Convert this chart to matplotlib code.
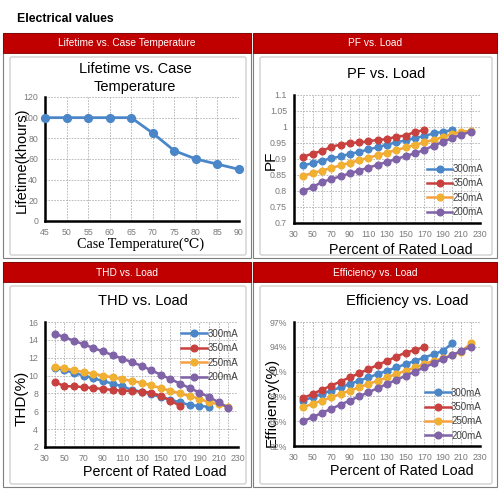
import matplotlib
matplotlib.use("Agg")
import matplotlib.pyplot as plt
from matplotlib.patches import Rectangle, FancyBboxPatch
import numpy as np

plt.rcParams['font.family'] = ['Liberation Sans', 'DejaVu Sans']

# ---------------- data ----------------
life_temp = [45, 50, 55, 60, 65, 70, 75, 80, 85, 90]
life_khours = [100, 100, 100, 100, 100, 85, 68, 60, 55, 50]

series_names = ["300mA", "350mA", "250mA", "200mA"]
load_300 = list(range(40, 201, 10))
load_350 = list(range(40, 171, 10))
load_250 = list(range(40, 221, 10))
load_200 = list(range(40, 221, 10))

pf_300 = [0.880, 0.887, 0.895, 0.902, 0.908, 0.916, 0.922, 0.930, 0.937, 0.945,
          0.952, 0.958, 0.965, 0.972, 0.980, 0.985, 0.990]
pf_350 = [0.907, 0.917, 0.925, 0.938, 0.945, 0.950, 0.952, 0.955, 0.960, 0.962,
          0.970, 0.973, 0.985, 0.990]
pf_250 = [0.848, 0.856, 0.864, 0.872, 0.880, 0.888, 0.896, 0.904, 0.912, 0.920,
          0.928, 0.936, 0.944, 0.952, 0.960, 0.968, 0.978, 0.985, 0.988]
pf_200 = [0.800, 0.812, 0.828, 0.837, 0.846, 0.855, 0.864, 0.873, 0.882, 0.891,
          0.900, 0.909, 0.918, 0.928, 0.942, 0.953, 0.966, 0.976, 0.985]

thd_300 = [10.9, 10.6, 10.3, 10.0, 9.7, 9.4, 9.1, 8.8, 8.4, 8.2, 7.9, 7.6, 7.3,
           7.0, 6.7, 6.6, 6.5]
thd_350 = [9.3, 8.8, 8.8, 8.7, 8.6, 8.5, 8.4, 8.3, 8.3, 8.2, 8.1, 7.7, 7.2, 6.6]
thd_250 = [11.0, 10.8, 10.6, 10.4, 10.2, 10.0, 9.8, 9.6, 9.4, 9.2, 8.9, 8.6, 8.3,
           8.0, 7.7, 7.4, 7.0, 6.8, 6.5]
thd_200 = [14.7, 14.3, 13.9, 13.5, 13.1, 12.7, 12.3, 11.9, 11.5, 11.1, 10.6, 10.1,
           9.6, 9.1, 8.6, 8.1, 7.6, 7.0, 6.4]

eff_300 = [87.5, 87.9, 88.3, 88.7, 89.1, 89.5, 89.9, 90.3, 90.7, 91.1, 91.5, 91.9,
           92.3, 92.7, 93.1, 93.5, 94.4]
eff_350 = [87.8, 88.3, 88.8, 89.3, 89.8, 90.3, 90.8, 91.3, 91.8, 92.3, 92.8, 93.3,
           93.6, 94.0]
eff_250 = [86.7, 87.1, 87.5, 87.9, 88.3, 88.7, 89.1, 89.5, 89.9, 90.3, 90.7, 91.1,
           91.5, 91.9, 92.3, 92.6, 93.0, 93.4, 94.4]
eff_200 = [85.0, 85.5, 86.0, 86.5, 87.0, 87.5, 88.0, 88.5, 89.0, 89.5, 90.0, 90.5,
           91.0, 91.5, 92.0, 92.5, 93.0, 93.5, 94.0]

load_ticks = list(range(30, 231, 20))
pf_ticks = [0.7, 0.75, 0.8, 0.85, 0.9, 0.95, 1, 1.05, 1.1]
pf_ticklabels = ["0.7", "0.75", "0.8", "0.85", "0.9", "0.95", "1", "1.05", "1.1"]
thd_ticks = [2, 4, 6, 8, 10, 12, 14, 16]
eff_ticks = [82, 85, 88, 91, 94, 97]
eff_ticklabels = ["82%", "85%", "88%", "91%", "94%", "97%"]
life_yticks = [0, 20, 40, 60, 80, 100, 120]

panel_titles = ["Lifetime vs. Case Temperature", "PF vs. Load", "THD vs. Load",
                "Efficiency vs. Load"]

colors = {"300mA": "#4A86C8", "350mA": "#C8413F", "250mA": "#F7A044", "200mA": "#8062A8"}
mcolors = {"300mA": "#4A86C8", "350mA": "#C8413F", "250mA": "#F0B030", "200mA": "#8062A8"}

W = H = 500
fig = plt.figure(figsize=(5, 5), dpi=100)
fig.patch.set_facecolor("white")


def px_axes(x0, y0, x1, y1):
    ax = fig.add_axes([x0 / W, 1 - y1 / H, (x1 - x0) / W, (y1 - y0) / H])
    ax.set_zorder(10)
    return ax


def fig_rect(x0, y0, x1, y1, **kw):
    r = Rectangle((x0 / W, 1 - y1 / H), (x1 - x0) / W, (y1 - y0) / H,
                  transform=fig.transFigure, zorder=-2, **kw)
    fig.add_artist(r)


def chart_box(x0, y0, x1, y1):
    r = FancyBboxPatch((x0 / W, 1 - y1 / H), (x1 - x0) / W, (y1 - y0) / H,
                       boxstyle="round,pad=0,rounding_size=0.004",
                       transform=fig.transFigure, facecolor="white",
                       edgecolor="#D0D0D0", linewidth=1.0, zorder=-1)
    fig.add_artist(r)


# header title
fig.text(17 / W, 1 - 19 / H, "Electrical values", fontsize=8.8, fontweight="bold",
         ha="left", va="center", color="black")

# cells
cells = [(3, 33, 251, 258), (253, 33, 497, 258), (3, 262, 251, 487), (253, 262, 497, 487)]
for i, (x0, y0, x1, y1) in enumerate(cells):
    fig_rect(x0, y0, x1, y1, facecolor="white", edgecolor="#7F7F7F", linewidth=0.8)
    fig_rect(x0, y0, x1, y0 + 20, facecolor="#C00000", edgecolor="#7F0000", linewidth=0.6)
    fig.text((x0 + x1) / 2 / W, 1 - (y0 + 10.5) / H, panel_titles[i], color="white",
             fontsize=7.3, ha="center", va="center")
    chart_box(x0 + 7, y0 + 24, x1 - 5, y1 - 3)


def style_axes(ax):
    ax.set_facecolor("white")
    for s in ["top", "right"]:
        ax.spines[s].set_visible(False)
    for s in ["left", "bottom"]:
        ax.spines[s].set_linewidth(1.8)
        ax.spines[s].set_color("black")
        ax.spines[s].set_zorder(5)
    ax.tick_params(axis="both", which="both", length=0, labelsize=6.3,
                   labelcolor="#7A7A7A", pad=5)
    ax.grid(True, which="both", linestyle=(0, (2, 1.5)), color="#B0B0B0", linewidth=0.6)
    ax.set_axisbelow(True)


# ---------------- Lifetime ----------------
ax1 = px_axes(45, 97, 239, 221)
style_axes(ax1)
ax1.plot(life_temp, life_khours, color="#4A86C8", lw=2.0, marker="o", ms=5.6,
         markeredgecolor="#4A86C8", clip_on=False, zorder=6)
ax1.set_xlim(45, 90)
ax1.set_ylim(0, 120)
ax1.set_xticks(life_temp)
ax1.set_yticks(life_yticks)
fig.text(135 / W, 1 - 78 / H, "Lifetime vs. Case\nTemperature", fontsize=10.5,
         linespacing=1.3, ha="center", va="center")
fig.text(22 / W, 1 - 160 / H, "Lifetime(khours)", rotation=90, fontsize=10.5,
         ha="center", va="center")
fig.text(141 / W, 1 - 244 / H, "Case Temperature(\u2103)", fontsize=10.2,
         family=["Liberation Serif", "DejaVu Serif"], ha="center", va="center")


def load_axes(ax, data, ylim, yticks, yticklabels, legend_anchor, title, title_x):
    style_axes(ax)
    for name, (x, y) in zip(series_names, data):
        ax.plot(x, y, color=colors[name], lw=1.8, marker="o", ms=4.8,
                markerfacecolor=mcolors[name], markeredgecolor=mcolors[name],
                label=name, clip_on=False, zorder=6)
    ax.set_xlim(30, 230)
    ax.set_ylim(*ylim)
    ax.set_xticks(load_ticks)
    ax.set_xticks(list(range(30, 231, 10)), minor=True)
    ax.set_yticks(yticks)
    ax.set_yticklabels(yticklabels)
    ax.set_title(title, fontsize=10.5, pad=12, x=title_x)
    leg = ax.legend(loc="upper right", bbox_to_anchor=legend_anchor, frameon=False,
                    fontsize=7, handlelength=2.6, labelspacing=0.45,
                    handletextpad=0.05, borderaxespad=0, borderpad=0)
    for t in leg.get_texts():
        t.set_color("#404040")
    return ax


# ---------------- PF ----------------
ax2 = px_axes(294, 95, 480, 223)
load_axes(ax2, [(load_300, pf_300), (load_350, pf_350), (load_250, pf_250), (load_200, pf_200)],
          (0.7, 1.1), pf_ticks, pf_ticklabels, (1.02, 0.46), "PF vs. Load", 0.495)
fig.text(271 / W, 1 - 160 / H, "PF", rotation=90, fontsize=11, ha="center", va="center")
fig.text(401 / W, 1 - 250 / H, "Percent of Rated Load", fontsize=10.3, ha="center", va="center")

# ---------------- THD ----------------
ax3 = px_axes(45, 322, 238, 447)
load_axes(ax3, [(load_300, thd_300), (load_350, thd_350), (load_250, thd_250), (load_200, thd_200)],
          (2, 16), thd_ticks, [str(t) for t in thd_ticks], (1.0, 0.945), "THD vs. Load", 0.51)
fig.text(22 / W, 1 - 398 / H, "THD(%)", rotation=90, fontsize=11, ha="center", va="center")
fig.text(155 / W, 1 - 472 / H, "Percent of Rated Load", fontsize=10.3, ha="center", va="center")

# ---------------- Efficiency ----------------
ax4 = px_axes(294, 322, 480, 446)
load_axes(ax4, [(load_300, eff_300), (load_350, eff_350), (load_250, eff_250), (load_200, eff_200)],
          (82, 97), eff_ticks, eff_ticklabels, (1.01, 0.47), "Efficiency vs. Load", 0.61)
fig.text(272 / W, 1 - 402 / H, "Efficiency(%)", rotation=90, fontsize=11, ha="center", va="center")
fig.text(402 / W, 1 - 471 / H, "Percent of Rated Load", fontsize=10.3, ha="center", va="center")

fig.savefig("out.png", dpi=100)
